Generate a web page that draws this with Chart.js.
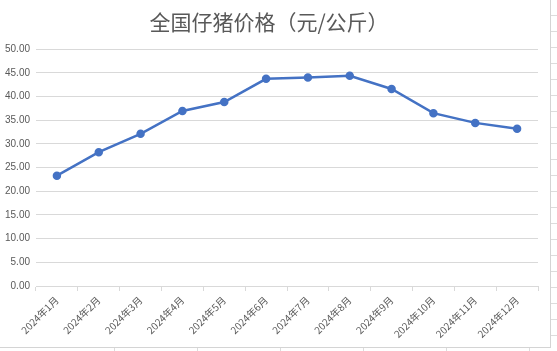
<!DOCTYPE html>
<html>
<head>
<meta charset="utf-8">
<script src="https://cdn.jsdelivr.net/npm/chart.js@4"></script>
<style>
html, body {
    margin: 0;
    padding: 0;
    width: 557px;
    height: 351px;
    overflow: hidden;
    background-color: #fff;
    background-image:
        repeating-linear-gradient(to bottom, transparent 0 15px, #dcdcdc 15px 16px),
        repeating-linear-gradient(to right, transparent 0 82px, #dcdcdc 82px 83px);
    background-position: 0 0, 32px 0;
}
#box {
    position: absolute;
    left: -35px;
    top: -1px;
    width: 586px;
    height: 349px;
    box-sizing: border-box;
    border: 1px solid #d4d4d4;
    background: #fff;
}
</style>
</head>
<body>
<div id="box"><canvas id="myChart" width="584" height="347"></canvas></div>
<script>
var chartTitle = '全国仔猪价格（元/公斤）';
var months = ['2024年1月', '2024年2月', '2024年3月', '2024年4月', '2024年5月', '2024年6月',
              '2024年7月', '2024年8月', '2024年9月', '2024年10月', '2024年11月', '2024年12月'];
var prices = [23.30, 28.25, 32.13, 36.96, 38.85, 43.74, 44.00, 44.37, 41.60, 36.50, 34.44, 33.20];

var gridColor = '#d9d9d9';
var textColor = '#595959';

var ctx = document.getElementById('myChart').getContext('2d');
var chart = new Chart(ctx, {
    type: 'line',
    data: {
        labels: months,
        datasets: [{
            label: chartTitle,
            data: prices,
            borderColor: '#4472c4',
            backgroundColor: '#4472c4',
            borderWidth: 2.5,
            pointRadius: 3,
            pointHoverRadius: 3,
            tension: 0
        }]
    },
    options: {
        responsive: false,
        animation: false,
        layout: {
            padding: {left: 34, right: 12, top: 0, bottom: 0}
        },
        plugins: {
            legend: {display: false},
            tooltip: {enabled: false},
            title: {
                display: true,
                text: chartTitle,
                color: textColor,
                font: {family: '"Noto Sans CJK SC", sans-serif', size: 21, weight: 'normal', lineHeight: 1.2},
                padding: {top: 9, bottom: 15}
            }
        },
        scales: {
            x: {
                offset: true,
                grid: {
                    offset: true,
                    drawOnChartArea: false,
                    drawTicks: true,
                    tickLength: 5,
                    color: gridColor
                },
                border: {display: true, color: gridColor},
                ticks: {
                    minRotation: 45,
                    maxRotation: 45,
                    autoSkip: false,
                    padding: 3,
                    color: textColor,
                    font: {family: '"Noto Sans CJK SC", sans-serif', size: 10}
                },
                afterFit: function(scale) { scale.height = 61; }
            },
            y: {
                min: 0,
                max: 50,
                grid: {color: gridColor, drawTicks: false},
                border: {display: false},
                ticks: {
                    stepSize: 5,
                    padding: 6,
                    color: textColor,
                    font: {family: '"Liberation Sans", Arial, sans-serif', size: 10},
                    callback: function(v) { return v.toFixed(2); }
                },
                afterFit: function(scale) { scale.width = 36; }
            }
        }
    }
});
</script>
</body>
</html>
